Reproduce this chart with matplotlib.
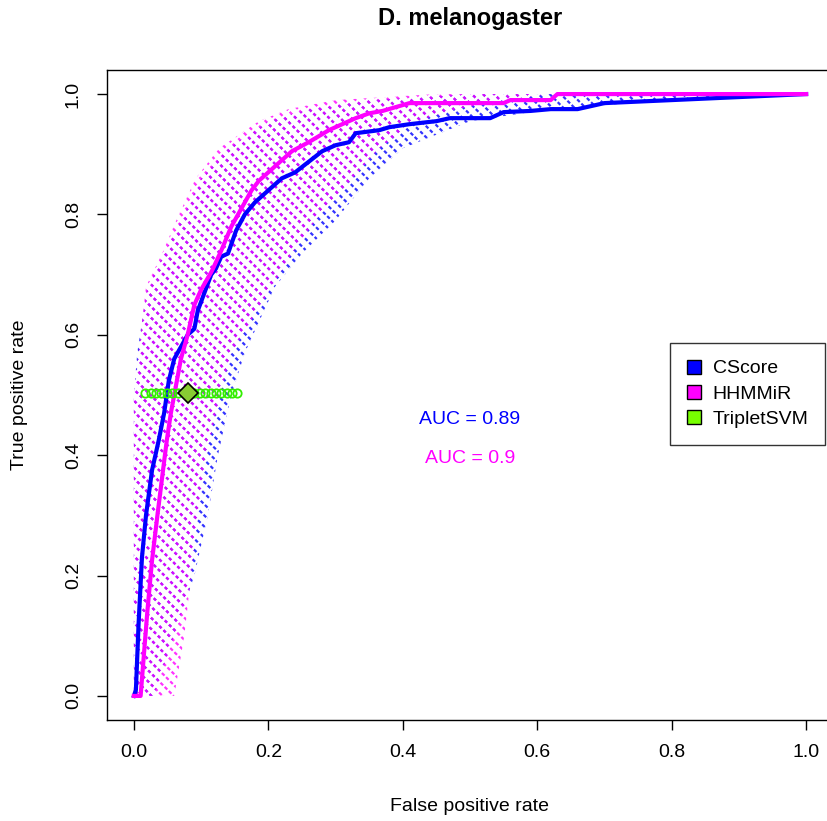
import matplotlib
matplotlib.use('Agg')
import matplotlib.pyplot as plt
from matplotlib.patches import Patch

plt.rcParams['font.family'] = ['Liberation Sans', 'DejaVu Sans']
plt.rcParams['hatch.linewidth'] = 1.6

# averaged ROC curves (fpr, tpr)
cscore_fpr = [0, 0.003, 0.007, 0.012, 0.018, 0.024, 0.027, 0.03, 0.037, 0.045, 0.052, 0.06,
              0.07, 0.08, 0.09, 0.095, 0.105, 0.115, 0.122, 0.13, 0.14, 0.152, 0.165, 0.18,
              0.2, 0.22, 0.24, 0.256, 0.28, 0.3, 0.32, 0.33, 0.365, 0.38, 0.41, 0.45, 0.47,
              0.53, 0.55, 0.59, 0.62, 0.66, 0.7, 0.8, 0.9, 1.0]
cscore_tpr = [0, 0.01, 0.12, 0.23, 0.3, 0.35, 0.375, 0.39, 0.425, 0.47, 0.524, 0.56,
              0.58, 0.6, 0.61, 0.64, 0.67, 0.7, 0.71, 0.73, 0.735, 0.773, 0.8, 0.82,
              0.84, 0.86, 0.87, 0.884, 0.905, 0.915, 0.92, 0.935, 0.94, 0.945, 0.95, 0.955, 0.96,
              0.96, 0.97, 0.972, 0.975, 0.975, 0.985, 0.99, 0.995, 1.0]

hhmm_fpr = [0, 0.01, 0.015, 0.02, 0.027, 0.035, 0.045, 0.049, 0.055, 0.064, 0.07, 0.08,
            0.09, 0.1, 0.116, 0.13, 0.145, 0.16, 0.175, 0.186, 0.21, 0.235, 0.26, 0.29,
            0.31, 0.33, 0.35, 0.37, 0.41, 0.55, 0.56, 0.62, 0.63, 1.0]
hhmm_tpr = [0, 0, 0.07, 0.14, 0.225, 0.3, 0.39, 0.425, 0.47, 0.524, 0.56, 0.6,
            0.65, 0.675, 0.706, 0.74, 0.78, 0.81, 0.84, 0.856, 0.88, 0.905, 0.92, 0.94,
            0.95, 0.96, 0.968, 0.972, 0.985, 0.985, 0.99, 0.99, 1.0, 1.0]

# spread of the cross-validation runs (fpr range at given tpr levels)
band_tpr = [0, 0.1, 0.2, 0.3, 0.4, 0.5, 0.57, 0.68, 0.735, 0.79, 0.86, 0.91, 0.955, 0.975, 0.99, 1.0]
hhmm_lo = [0, 0, 0, 0, 0, 0, 0.007, 0.018, 0.042, 0.063, 0.092, 0.127, 0.186, 0.23, 0.3, 0.45]
hhmm_hi = [0.06, 0.075, 0.085, 0.095, 0.108, 0.128, 0.145, 0.205, 0.235, 0.27, 0.325, 0.365, 0.42, 0.48, 0.55, 0.62]
cscore_lo = [0, 0, 0, 0, 0, 0, 0.005, 0.02, 0.045, 0.07, 0.1, 0.14, 0.2, 0.26, 0.35, 0.5]
cscore_hi = [0.03, 0.06, 0.09, 0.11, 0.125, 0.145, 0.165, 0.21, 0.25, 0.3, 0.35, 0.4, 0.5, 0.62, 0.8, 0.92]

# TripletSVM: single operating point plus the per-fold fpr values
svm_fpr = 0.08
svm_tpr = 0.503
svm_folds = [0.017, 0.025, 0.033, 0.041, 0.049, 0.057, 0.065, 0.09, 0.098, 0.106,
             0.114, 0.122, 0.13, 0.138, 0.146, 0.154]

auc_cscore = 0.89
auc_hhmm = 0.9

blue = '#0000ff'
magenta = '#ff00ff'

fig = plt.figure(figsize=(8.28, 8.21), dpi=100)
ax = fig.add_axes([107 / 828, 1 - 720 / 821, (833 - 107) / 828, (720 - 70) / 821])

ax.fill_betweenx(band_tpr, cscore_lo, cscore_hi, facecolor='none',
                 edgecolor=(0, 0, 1, 0.8), linewidth=0, hatch='\\\\\\')
ax.fill_betweenx(band_tpr, hhmm_lo, hhmm_hi, facecolor='none',
                 edgecolor=(1, 0, 1, 0.8), linewidth=0, hatch='\\\\\\')
# break the hatch lines into dots, like the spread estimate in the original
for lo, hi in [(cscore_lo, cscore_hi), (hhmm_lo, hhmm_hi)]:
    ax.fill_betweenx(band_tpr, lo, hi, facecolor='none', edgecolor='white',
                     linewidth=0, hatch='////')

ax.plot(cscore_fpr, cscore_tpr, color=blue, lw=3, solid_joinstyle='round')
ax.plot(hhmm_fpr, hhmm_tpr, color=magenta, lw=3, solid_joinstyle='round')

ax.plot(svm_folds, [svm_tpr] * len(svm_folds), 'o', ms=6, mfc='none', mec='#33ee00', mew=1.3)
ax.plot([svm_fpr], [svm_tpr], 'D', ms=10, mfc='#88cc33', mec='black', mew=1.2)

ax.text(0.5, 0.459, 'AUC = %g' % auc_cscore, color=blue, fontsize=14, ha='center', va='center')
ax.text(0.5, 0.395, 'AUC = %g' % auc_hhmm, color=magenta, fontsize=14, ha='center', va='center')

ax.set_xlim(-0.04, 1.04)
ax.set_ylim(-0.04, 1.04)
ticks = [0, 0.2, 0.4, 0.6, 0.8, 1.0]
ax.set_xticks(ticks)
ax.set_yticks(ticks)
ax.set_xticklabels(['%.1f' % t for t in ticks])
ax.set_yticklabels(['%.1f' % t for t in ticks], rotation=90, va='center')
ax.tick_params(direction='out', length=7, width=1, labelsize=14)
ax.tick_params(axis='x', pad=10)
ax.tick_params(axis='y', pad=11)
for s in ax.spines.values():
    s.set_linewidth(1)

fig.text(470 / 828, 1 - 18 / 821, 'D. melanogaster', fontsize=17,
         fontweight='bold', ha='center', va='center')
fig.text(470 / 828, 1 - 806 / 821, 'False positive rate', fontsize=14, ha='center', va='center')
fig.text(20 / 828, 1 - 395 / 821, 'True positive rate', fontsize=14, ha='center', va='center',
         rotation=90)

handles = [Patch(facecolor=blue, edgecolor='black'),
           Patch(facecolor=magenta, edgecolor='black'),
           Patch(facecolor='#77ff00', edgecolor='black')]
leg = fig.legend(handles, ['CScore', 'HHMMiR', 'TripletSVM'], loc='upper left',
                 bbox_to_anchor=(670 / 828, 1 - 343 / 821), bbox_transform=fig.transFigure,
                 fontsize=14, frameon=True, fancybox=False, borderaxespad=0,
                 handlelength=0.75, handleheight=0.75, handletextpad=0.6, labelspacing=0.38,
                 borderpad=0.85)
leg.get_frame().set_edgecolor('black')
leg.get_frame().set_linewidth(1)

fig.savefig('out.png', dpi=100)
